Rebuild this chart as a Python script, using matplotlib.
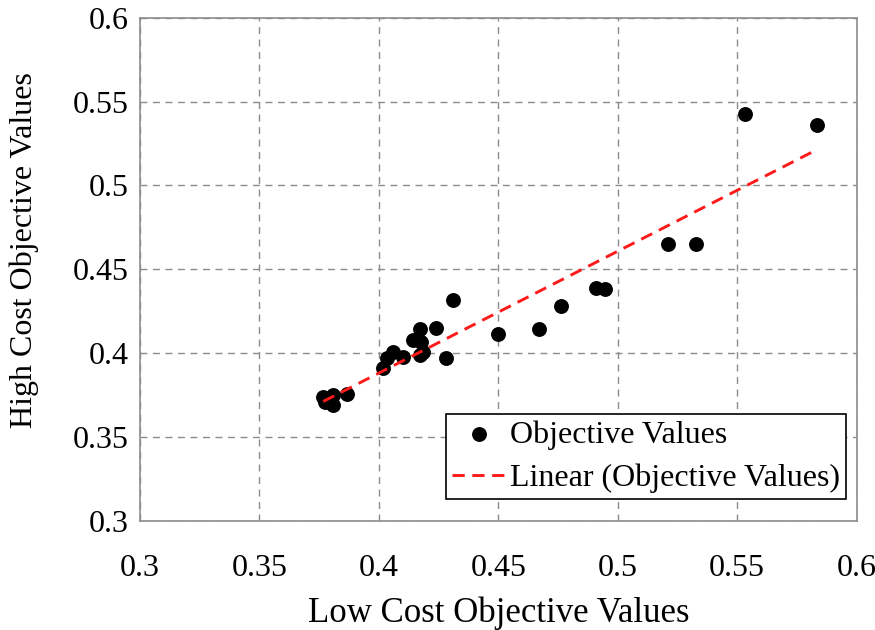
import numpy as np
import matplotlib
matplotlib.use("Agg")
import matplotlib.pyplot as plt

low_cost = [0.5534, 0.5833, 0.5211, 0.5326, 0.4909, 0.4946, 0.4762, 0.4672,
            0.4499, 0.4312, 0.4280, 0.4238, 0.4172, 0.4143, 0.4178, 0.4185,
            0.4172, 0.4099, 0.4060, 0.4035, 0.4018, 0.3865, 0.3809, 0.3767,
            0.3809, 0.3775]
high_cost = [0.5424, 0.5360, 0.4649, 0.4649, 0.4391, 0.4381, 0.4280, 0.4145,
             0.4114, 0.4317, 0.3970, 0.4152, 0.4142, 0.4079, 0.4069, 0.4009,
             0.3989, 0.3976, 0.4009, 0.3970, 0.3910, 0.3755, 0.3751, 0.3737,
             0.3691, 0.3710]
xticks = [0.3, 0.35, 0.4, 0.45, 0.5, 0.55, 0.6]
yticks = [0.3, 0.35, 0.4, 0.45, 0.5, 0.55, 0.6]

plt.rcParams['font.family'] = ['Liberation Serif', 'DejaVu Serif']

fig = plt.figure(figsize=(8.75, 6.3), dpi=100)
ax = fig.add_axes([0.16, 0.173, 0.819, 0.799])

x = np.array(low_cost)
y = np.array(high_cost)
ax.scatter(x, y, s=115, color='black', zorder=3, label='Objective Values', linewidths=0)
m, b = np.polyfit(x, y, 1)
xs = np.array([x.min(), x.max()])
ax.plot(xs, m * xs + b, color='#ff1a1a', linestyle=(0, (4.2, 2.6)), linewidth=2.1,
        zorder=4, label='Linear (Objective Values)')

ax.set_xlim(0.3, 0.6)
ax.set_ylim(0.3, 0.6)
ax.set_xticks(xticks)
ax.set_yticks(yticks)
ax.set_xticklabels([f"{t:g}" for t in xticks])
ax.set_yticklabels([f"{t:g}" for t in yticks])
ax.tick_params(length=0, labelsize=23, colors='black')
ax.tick_params(axis='x', pad=24)
ax.tick_params(axis='y', pad=8)
ax.grid(True, color='#8c8c8c', linestyle=(0, (5, 4)), linewidth=1.0)
for s in ax.spines.values():
    s.set_color('#8c8c8c')
    s.set_linewidth(1.2)

ax.set_xlabel('Low Cost Objective Values', fontsize=25, va='center')
ax.xaxis.set_label_coords(0.5007, -0.1828)
ax.set_ylabel('High Cost Objective Values', fontsize=23, va='center')
ax.yaxis.set_label_coords(-0.1618, 0.538)

leg = ax.legend(loc='upper left', bbox_to_anchor=(0.4268, 0.2126), fontsize=23,
                frameon=True, fancybox=False, edgecolor='black', framealpha=1,
                handlelength=1.65, handletextpad=0.15, borderpad=0.2,
                labelspacing=0.42, borderaxespad=0)
leg.get_frame().set_linewidth(1.2)

fig.savefig('out.png', dpi=100)
